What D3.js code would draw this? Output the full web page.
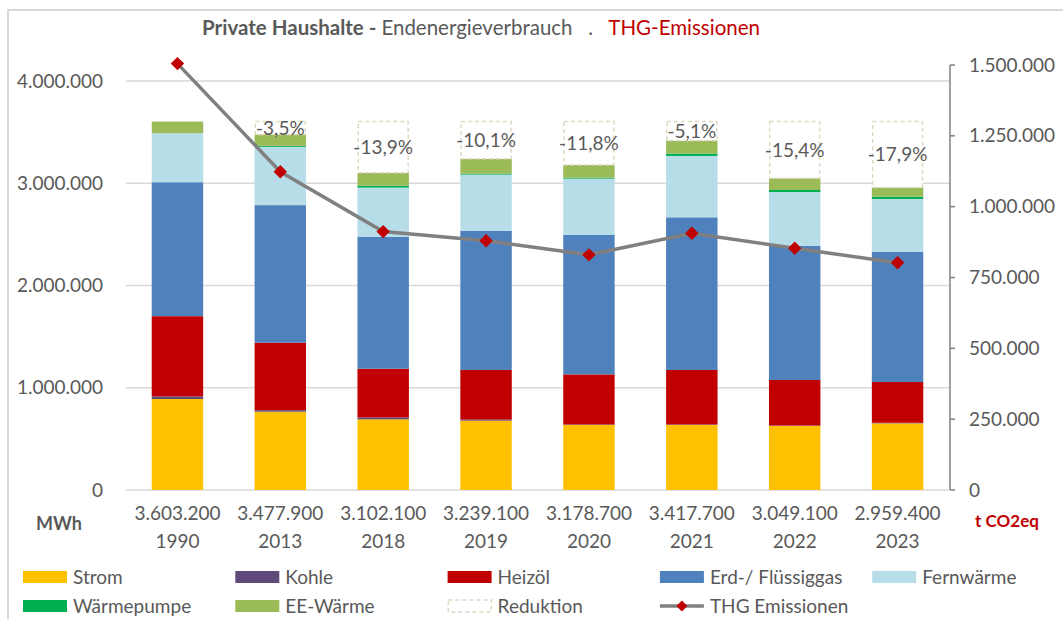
<!DOCTYPE html>
<html>
<head>
<meta charset="utf-8">
<script src="https://cdn.jsdelivr.net/npm/d3@7"></script>
<style>
  body { margin: 0; background: #fff; }
  svg { font-family: Lato, "Open Sans", sans-serif; }
  .title { white-space: pre; }
</style>
</head>
<body>
<div id="chart"></div>
<script>
// Werte (MWh bzw. t CO2eq)
const years = ['1990', '2013', '2018', '2019', '2020', '2021', '2022', '2023'];
const totals = [3603200, 3477900, 3102100, 3239100, 3178700, 3417700, 3049100, 2959400];
const strom = [890000, 766000, 691000, 678000, 636000, 636000, 626000, 652000];
const kohle = [25000, 15000, 18000, 10000, 5000, 5000, 5000, 5000];
const heizoel = [785000, 660000, 477000, 486000, 490000, 533000, 445000, 399000];
const erdgas = [1310000, 1345000, 1291000, 1362000, 1363000, 1493000, 1313000, 1275000];
const fernwaerme = [480000, 570000, 480000, 548000, 551000, 600000, 525000, 515000];
const waermepumpe = [0, 10000, 19000, 10000, 10000, 23000, 20000, 23000];
const eeWaerme = [113200, 111900, 126100, 145100, 123700, 127700, 115100, 90400];
const thg = [1505000, 1123000, 912000, 880000, 830000, 906000, 853000, 802000];
const leftTicks = [0, 1000000, 2000000, 3000000, 4000000];
const rightTicks = [0, 250000, 500000, 750000, 1000000, 1250000, 1500000];

const series = [
  { key: 'strom', name: 'Strom', color: '#FFC000', values: strom },
  { key: 'kohle', name: 'Kohle', color: '#604A7B', values: kohle },
  { key: 'heizoel', name: 'Heizöl', color: '#C00000', values: heizoel },
  { key: 'erdgas', name: 'Erd-/ Flüssiggas', color: '#4F81BD', values: erdgas },
  { key: 'fern', name: 'Fernwärme', color: '#B7DEE8', values: fernwaerme },
  { key: 'wp', name: 'Wärmepumpe', color: '#00B050', values: waermepumpe },
  { key: 'ee', name: 'EE-Wärme', color: '#9BBB59', values: eeWaerme }
];

const de = d3.formatLocale({ decimal: ',', thousands: '.', grouping: [3], currency: ['', ' €'], minus: '-' });
const fmtNum = de.format(',.0f');
const fmtPct = de.format('.1f');

const width = 1063, height = 619;
const textColor = '#595959';
const fontSize = 19;

const svg = d3.select('#chart').append('svg')
  .attr('width', width)
  .attr('height', height);

// Rahmen
svg.append('path')
  .attr('d', `M8,${height + 5} L8,10 L${width + 5},10`)
  .attr('fill', 'none')
  .attr('stroke', '#d9d9d9')
  .attr('stroke-width', 2);

const rows = years.map((y, i) => {
  const r = { year: y, total: totals[i] };
  series.forEach(s => { r[s.key] = s.values[i]; });
  return r;
});

const x = d3.scaleBand().domain(years).range([126, 949]).paddingInner(0.5).paddingOuter(0.25);
const yL = d3.scaleLinear().domain([0, 4000000]).range([490, 81]);
const yR = d3.scaleLinear().domain([0, 1500000]).range([490, 65]);

// Gitterlinien
svg.append('g').selectAll('line').data(leftTicks).join('line')
  .attr('x1', 126).attr('x2', 949)
  .attr('y1', d => yL(d)).attr('y2', d => yL(d))
  .attr('stroke', '#d9d9d9')
  .attr('stroke-width', 1.5);

// linke Achse
svg.append('g').selectAll('text').data(leftTicks).join('text')
  .attr('x', 103).attr('y', d => yL(d))
  .attr('dy', '0.35em')
  .attr('text-anchor', 'end')
  .attr('font-size', fontSize)
  .attr('fill', textColor)
  .text(d => fmtNum(d));

// rechte Achse
const rAxis = svg.append('g').attr('transform', 'translate(950,0)');
rAxis.append('line')
  .attr('y1', yR(0)).attr('y2', yR(1500000))
  .attr('stroke', '#808080').attr('stroke-width', 1.5);
rAxis.selectAll('line.tick').data(rightTicks).join('line')
  .attr('class', 'tick')
  .attr('x1', 0).attr('x2', 5)
  .attr('y1', d => yR(d)).attr('y2', d => yR(d))
  .attr('stroke', '#808080').attr('stroke-width', 1.5);
rAxis.selectAll('text').data(rightTicks).join('text')
  .attr('x', 19).attr('y', d => yR(d))
  .attr('dy', '0.35em')
  .attr('font-size', fontSize)
  .attr('fill', textColor)
  .text(d => fmtNum(d));

// gestapelte Säulen
const stacked = d3.stack().keys(series.map(s => s.key))(rows);
const barG = svg.append('g');
stacked.forEach((layer, li) => {
  barG.append('g').attr('fill', series[li].color)
    .selectAll('rect').data(layer).join('rect')
    .attr('x', d => x(d.data.year))
    .attr('width', x.bandwidth())
    .attr('y', d => yL(d[1]))
    .attr('height', d => yL(d[0]) - yL(d[1]));
});

// Reduktion gegenüber 1990
const base = totals[0];
const red = rows.slice(1);
svg.append('g').selectAll('rect').data(red).join('rect')
  .attr('x', d => x(d.year) + 0.75)
  .attr('width', x.bandwidth() - 1.5)
  .attr('y', yL(base))
  .attr('height', d => yL(d.total) - yL(base))
  .attr('fill', '#fff')
  .attr('stroke', '#DDD9C3')
  .attr('stroke-width', 1.5)
  .attr('stroke-dasharray', '4,3');
svg.append('g').selectAll('text').data(red).join('text')
  .attr('x', d => x(d.year) + x.bandwidth() / 2)
  .attr('y', d => (yL(base) + yL(d.total)) / 2)
  .attr('dy', '0.35em')
  .attr('text-anchor', 'middle')
  .attr('font-size', fontSize)
  .attr('fill', textColor)
  .text(d => fmtPct((d.total / base - 1) * 100) + '%');

// THG-Linie
const cx = (d, i) => x(years[i]) + x.bandwidth() / 2;
svg.append('path')
  .datum(thg)
  .attr('fill', 'none')
  .attr('stroke', '#808080')
  .attr('stroke-width', 3.5)
  .attr('d', d3.line().x(cx).y(d => yR(d)));
svg.append('g').selectAll('path').data(thg).join('path')
  .attr('d', d3.symbol(d3.symbolSquare, 90))
  .attr('transform', (d, i) => `translate(${cx(d, i)},${yR(d)}) rotate(45)`)
  .attr('fill', '#C00000');

// x-Beschriftung: Summe + Jahr
const xl = svg.append('g').selectAll('text').data(rows).join('text')
  .attr('text-anchor', 'middle')
  .attr('font-size', fontSize)
  .attr('fill', textColor);
xl.append('tspan')
  .attr('x', d => x(d.year) + x.bandwidth() / 2)
  .attr('y', 520)
  .text(d => fmtNum(d.total));
xl.append('tspan')
  .attr('x', d => x(d.year) + x.bandwidth() / 2)
  .attr('y', 548)
  .text(d => d.year);

svg.append('text')
  .attr('x', 59).attr('y', 530)
  .attr('text-anchor', 'middle')
  .attr('font-size', 18).attr('font-weight', 'bold')
  .attr('fill', textColor)
  .text('MWh');
svg.append('text')
  .attr('x', 1007).attr('y', 527)
  .attr('text-anchor', 'middle')
  .attr('font-size', 17).attr('font-weight', 'bold')
  .attr('fill', '#C00000')
  .text('t CO2eq');

// Titel
const title = svg.append('text')
  .attr('class', 'title')
  .attr('x', 481).attr('y', 35)
  .attr('text-anchor', 'middle')
  .attr('font-size', 20.5)
  .attr('fill', textColor);
title.append('tspan').attr('font-weight', 'bold').text('Private Haushalte - ');
title.append('tspan').text('Endenergieverbrauch   .   ');
title.append('tspan').attr('fill', '#C00000').text('THG-Emissionen');

// Legende
const legendItems = series.map(s => ({ name: s.name, color: s.color, type: 'box' }))
  .concat([
    { name: 'Reduktion', type: 'dash' },
    { name: 'THG Emissionen', type: 'line' }
  ]);
const lg = svg.append('g').selectAll('g').data(legendItems).join('g')
  .attr('transform', (d, i) => `translate(${23 + (i % 5) * 212.3},${i < 5 ? 577 : 606})`);
lg.filter(d => d.type === 'box').append('rect')
  .attr('x', 0).attr('y', -6).attr('width', 44).attr('height', 12)
  .attr('fill', d => d.color);
lg.filter(d => d.type === 'dash').append('rect')
  .attr('x', 0.75).attr('y', -6).attr('width', 43).attr('height', 12)
  .attr('fill', '#fff')
  .attr('stroke', '#DDD9C3').attr('stroke-width', 1.5)
  .attr('stroke-dasharray', '4,3');
const lineItem = lg.filter(d => d.type === 'line');
lineItem.append('line')
  .attr('x1', 0).attr('x2', 44)
  .attr('stroke', '#808080').attr('stroke-width', 3.5);
lineItem.append('path')
  .attr('d', d3.symbol(d3.symbolSquare, 60))
  .attr('transform', 'translate(22,0) rotate(45)')
  .attr('fill', '#C00000');
lg.append('text')
  .attr('x', 50).attr('dy', '0.35em')
  .attr('font-size', fontSize)
  .attr('fill', textColor)
  .text(d => d.name);
</script>
</body>
</html>
